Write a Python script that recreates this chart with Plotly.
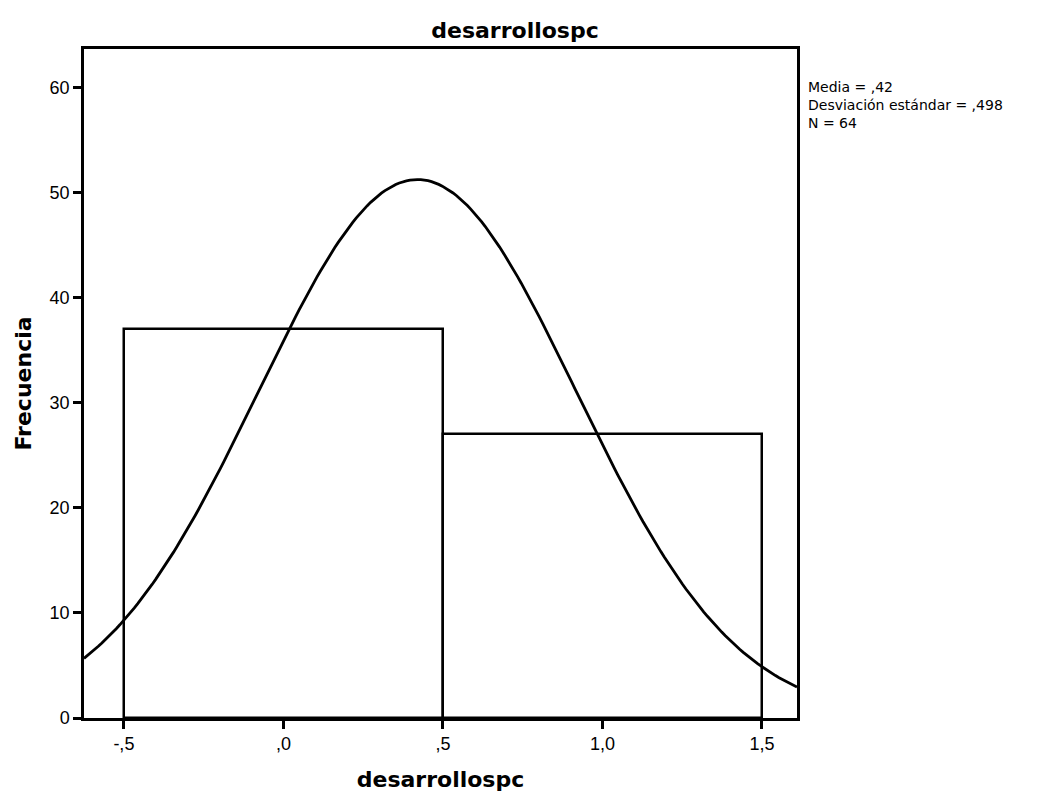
import numpy as np
import plotly.graph_objects as go

# histogram bins (centres, width 1) and counts
bin_centers = [0.0, 1.0]
bin_counts = [37, 27]
bin_width = 1.0

# summary stats shown on the chart
media = 0.42
desviacion = 0.498
n_total = 64
stats_lines = ['Media = ,42', 'Desviación estándar = ,498', 'N = 64']

x_ticks = [-0.5, 0.0, 0.5, 1.0, 1.5]
x_tick_labels = ['-,5', ',0', ',5', '1,0', '1,5']
y_ticks = [0, 10, 20, 30, 40, 50, 60]

x_range = [-0.625, 1.61]
y_range = [0, 63.7]

# normal curve scaled to the histogram (as SPSS draws it)
xs = np.linspace(x_range[0], x_range[1], 200)
ys = n_total * bin_width / (desviacion * np.sqrt(2 * np.pi)) * np.exp(-0.5 * ((xs - media) / desviacion) ** 2)

fig = go.Figure()

fig.add_trace(go.Bar(
    x=bin_centers,
    y=bin_counts,
    width=bin_width,
    marker=dict(color='white', line=dict(color='black', width=2.5)),
    hoverinfo='skip',
))

fig.add_trace(go.Scatter(
    x=xs,
    y=ys,
    mode='lines',
    line=dict(color='black', width=2.8),
    hoverinfo='skip',
))

axis_common = dict(
    ticks='outside',
    ticklen=8,
    tickwidth=2.5,
    tickcolor='black',
    showline=True,
    linecolor='black',
    linewidth=2.5,
    mirror=True,
    showgrid=False,
    zeroline=False,
    tickfont=dict(family='Liberation Sans, Arial', size=18),
)

fig.update_layout(
    width=1040,
    height=795,
    showlegend=False,
    plot_bgcolor='white',
    paper_bgcolor='white',
    font=dict(family='DejaVu Sans', size=16, color='black'),
    margin=dict(l=76, r=251, t=41, b=85),
    bargap=0,
    title=dict(
        text='<b>desarrollospc</b>',
        x=0.4875,
        xanchor='center',
        y=0.972,
        yanchor='middle',
        font=dict(family='DejaVu Sans', size=22),
    ),
    xaxis=dict(
        range=x_range,
        tickvals=x_ticks,
        ticktext=x_tick_labels,
        title=dict(text='<b>desarrollospc</b>', font=dict(family='DejaVu Sans', size=22), standoff=19),
        **axis_common,
    ),
    yaxis=dict(
        range=y_range,
        tickvals=y_ticks,
        title=dict(text='<b>Frecuencia</b>', font=dict(family='DejaVu Sans', size=22), standoff=12),
        **axis_common,
    ),
    annotations=[dict(
        text='<br>'.join(stats_lines),
        xref='paper', yref='paper',
        x=1.0126, y=0.958,
        xanchor='left', yanchor='top',
        align='left',
        showarrow=False,
        font=dict(family='DejaVu Sans', size=14),
    )],
)

fig.write_html("out.html")
